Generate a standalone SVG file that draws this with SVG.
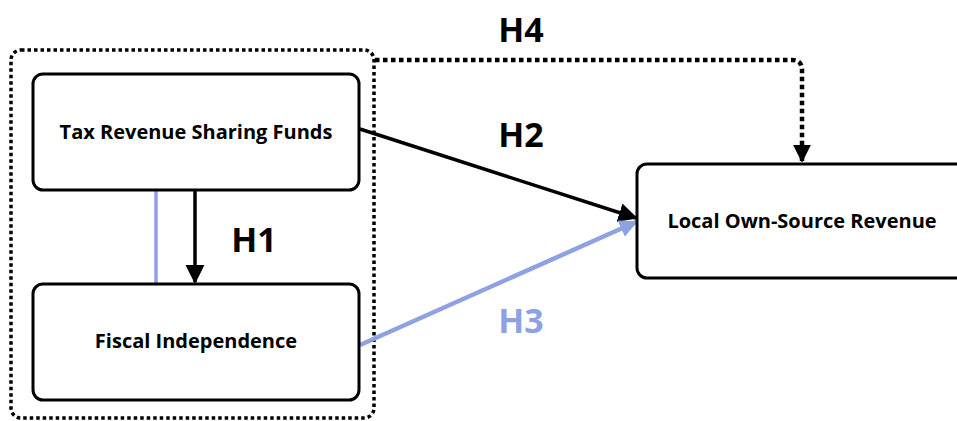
<svg xmlns="http://www.w3.org/2000/svg" width="957" height="421" viewBox="0 0 957 421">
<style>
.box{fill:#fff;stroke:#000;stroke-width:3}
.lbl{font-family:"Open Sans","Liberation Sans",sans-serif;font-weight:bold;font-size:20px;fill:#000;text-anchor:middle}
.h{font-family:"Open Sans","Liberation Sans",sans-serif;font-weight:bold;font-size:34px;fill:#000;text-anchor:middle}
.dot{fill:none;stroke:#000;stroke-width:3.5;stroke-dasharray:3.5 3}
.dot2{fill:none;stroke:#000;stroke-width:4.5;stroke-dasharray:4.5 3.5}
</style>
<defs>
<marker id="ab" viewBox="0 0 10 10" refX="9" refY="5" markerWidth="5.5" markerHeight="5.5" orient="auto" markerUnits="strokeWidth"><path d="M0,0 L10,5 L0,10 z" fill="#000"/></marker>
<marker id="ab4" viewBox="0 0 10 10" refX="9" refY="5" markerWidth="4" markerHeight="4" orient="auto" markerUnits="strokeWidth"><path d="M0,0 L10,5 L0,10 z" fill="#000"/></marker>
<marker id="abl" viewBox="0 0 10 10" refX="9" refY="5" markerWidth="4" markerHeight="4" orient="auto" markerUnits="strokeWidth"><path d="M0,0 L10,5 L0,10 z" fill="#8ea2e3"/></marker>
</defs>
<g id="group-box"><rect class="dot" x="11" y="50" width="363" height="368" rx="10"/></g>
<g id="connectors">
<line x1="156" y1="191" x2="156" y2="283" stroke="#8ea2e3" stroke-width="3.5"/>
<line x1="195" y1="191" x2="195" y2="282" stroke="#000" stroke-width="3.5" marker-end="url(#ab)"/>
<line x1="360" y1="129" x2="636" y2="218" stroke="#000" stroke-width="3.5" marker-end="url(#ab)"/>
<line x1="360" y1="345" x2="636" y2="222" stroke="#8ea2e3" stroke-width="4.5" marker-end="url(#abl)"/>
<path class="dot2" d="M375,60 H792 Q802,60 802,70 V161" marker-end="url(#ab4)"/>
</g>
<g id="node-tax"><rect class="box" x="33" y="74" width="326" height="116" rx="10"/><text class="lbl" x="196" y="139">Tax Revenue Sharing Funds</text></g>
<g id="node-fiscal"><rect class="box" x="33" y="284" width="326" height="116" rx="10"/><text class="lbl" x="196" y="348">Fiscal Independence</text></g>
<g id="node-local"><rect class="box" x="637" y="164" width="330" height="114" rx="10"/><text class="lbl" x="802" y="228">Local Own-Source Revenue</text></g>
<g id="labels">
<text class="h" x="521" y="42">H4</text>
<text class="h" x="521" y="147">H2</text>
<text class="h" x="254" y="252">H1</text>
<text class="h" x="521" y="333" style="fill:#8ea2e3">H3</text>
</g>
</svg>
